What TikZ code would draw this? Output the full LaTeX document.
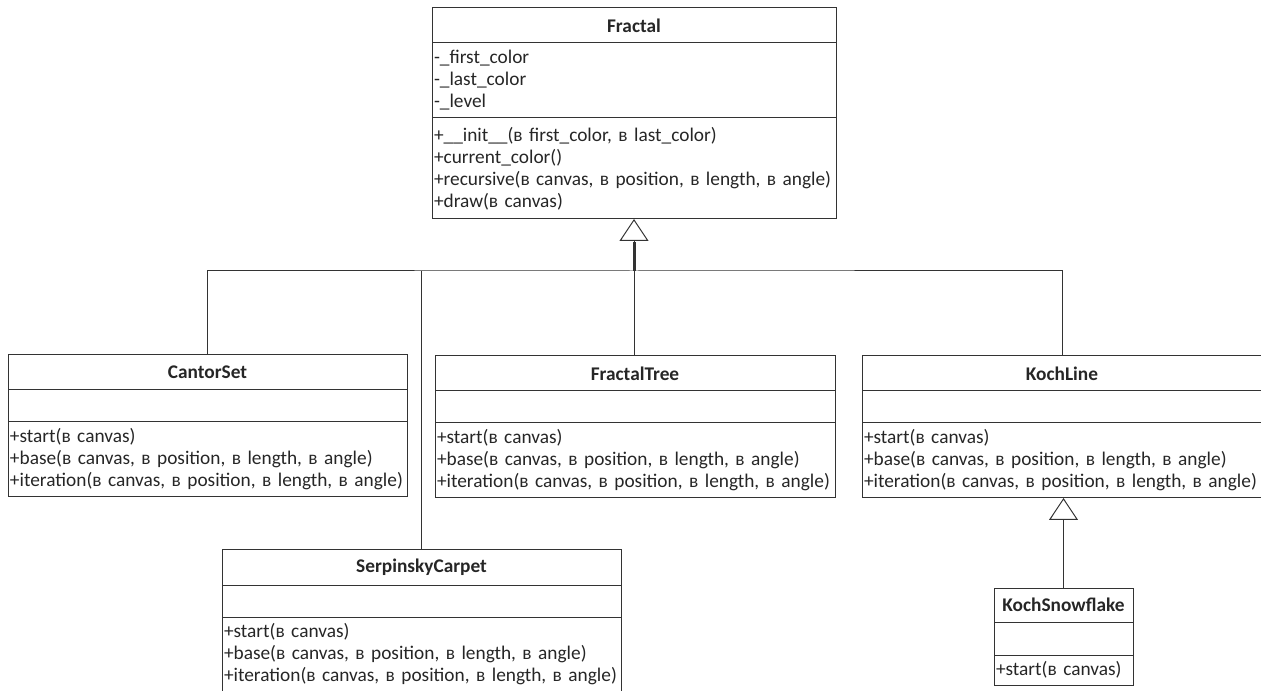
\documentclass[tikz,border=0pt]{standalone}
\usepackage{fontspec}
\setmainfont{Carlito}
\usetikzlibrary{positioning,arrows.meta}

\tikzset{
  part/.style={draw=black!80, line width=0.75pt, outer sep=0pt, inner sep=1.5pt,
    text=black!85, font=\fontsize{14.5}{16.5}\selectfont},
  head/.style={part, font=\fontsize{14.5}{16.5}\selectfont\bfseries, minimum height=26.25pt},
  fields/.style={part, minimum height=24pt},
  methods/.style={part, align=left, minimum height=56.25pt},
  inherits/.style={-{Triangle[open,length=16.5pt,width=21.75pt]}, line width=0.75pt, draw=black!80}
}

\begin{document}
\begin{tikzpicture}[x=0.75pt,y=-0.75pt]
  \clip (0,0) rectangle (1261,691);

  % base class
  \node[head, minimum width=303pt, anchor=north west] (frac) at (432,8) {Fractal};
  \node[fields, minimum width=303pt, minimum height=56.25pt, text width=300pt, align=left,
        below=0pt of frac] (fracA)
        {-\_first\_color\\-\_last\_color\\-\_level};
  \node[methods, text width=300pt, minimum height=75.75pt, below=0pt of fracA] (fracM)
        {+\_\_init\_\_(в first\_color, в last\_color)\\+current\_color()\\
         +recursive(в canvas, в position, в length, в angle)\\+draw(в canvas)};

  % subclasses
  \node[head, minimum width=299.25pt, anchor=north west] (cantor) at (8,355) {CantorSet};
  \node[fields, minimum width=299.25pt, below=0pt of cantor] (cantorA) {};
  \node[methods, text width=296.25pt, below=0pt of cantorA] (cantorM)
        {+start(в canvas)\\+base(в canvas, в position, в length, в angle)\\
         +iteration(в canvas, в position, в length, в angle)};

  \node[head, minimum width=300pt, anchor=north west] (tree) at (435,356) {FractalTree};
  \node[fields, minimum width=300pt, below=0pt of tree] (treeA) {};
  \node[methods, text width=297pt, below=0pt of treeA] (treeM)
        {+start(в canvas)\\+base(в canvas, в position, в length, в angle)\\
         +iteration(в canvas, в position, в length, в angle)};

  \node[head, minimum width=300pt, anchor=north west] (koch) at (862,356) {KochLine};
  \node[fields, minimum width=300pt, below=0pt of koch] (kochA) {};
  \node[methods, text width=297pt, below=0pt of kochA] (kochM)
        {+start(в canvas)\\+base(в canvas, в position, в length, в angle)\\
         +iteration(в canvas, в position, в length, в angle)};

  \node[head, minimum width=299.25pt, anchor=north west] (carpet) at (222,550) {SerpinskyCarpet};
  \node[fields, minimum width=299.25pt, below=0pt of carpet] (carpetA) {};
  \node[methods, text width=296.25pt, below=0pt of carpetA] (carpetM)
        {+start(в canvas)\\+base(в canvas, в position, в length, в angle)\\
         +iteration(в canvas, в position, в length, в angle)};

  \node[head, minimum width=104.25pt, minimum height=25.5pt, anchor=north west] (snow) at (994,588) {KochSnowflake};
  \node[fields, minimum width=104.25pt, minimum height=24.75pt, below=0pt of snow] (snowA) {};
  \node[methods, text width=101.25pt, minimum height=22.5pt, below=0pt of snowA] (snowM)
        {+start(в canvas)};

  % generalisation
  \coordinate (bus) at (fracM.south |- 0,271);
  \draw[black!80, line width=0.75pt] (cantor.north) |- (bus) -| (koch.north);
  \draw[black!80, line width=0.75pt] (carpet.north) -- (carpet.north |- bus);
  \draw[black!80, line width=0.75pt] (bus |- tree.north) -- (bus);
  \draw[inherits] (bus) -- (fracM.south);
  \draw[black!80, line width=2.25pt] (bus) -- ++(0,-29);
  \draw[inherits] (snow.north) -- (snow.north |- kochM.south);
\end{tikzpicture}
\end{document}
